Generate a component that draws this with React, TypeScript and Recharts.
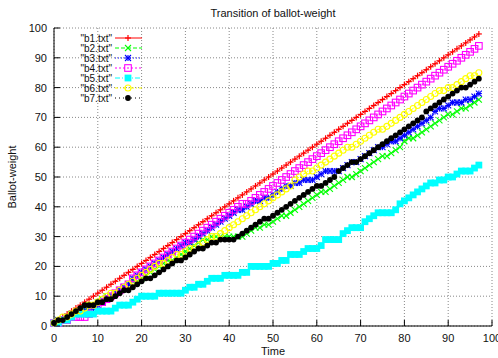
import React from 'react';
import { LineChart, Line, XAxis, YAxis, CartesianGrid } from 'recharts';

// time steps (x)
const time = [
  0, 1, 2, 3, 4, 5, 6, 7, 8, 9, 10, 11, 12, 13, 14, 15, 16, 17, 18, 19,
  20, 21, 22, 23, 24, 25, 26, 27, 28, 29, 30, 31, 32, 33, 34, 35, 36, 37, 38, 39,
  40, 41, 42, 43, 44, 45, 46, 47, 48, 49, 50, 51, 52, 53, 54, 55, 56, 57, 58, 59,
  60, 61, 62, 63, 64, 65, 66, 67, 68, 69, 70, 71, 72, 73, 74, 75, 76, 77, 78, 79,
  80, 81, 82, 83, 84, 85, 86, 87, 88, 89, 90, 91, 92, 93, 94, 95, 96, 97,
];

const b1 = [
  1, 2, 3, 4, 5, 6, 7, 8, 9, 10, 11, 12, 13, 14, 15, 16, 17, 18, 19, 20,
  21, 22, 23, 24, 25, 26, 27, 28, 29, 30, 31, 32, 33, 34, 35, 36, 37, 38, 39, 40,
  41, 42, 43, 44, 45, 46, 47, 48, 49, 50, 51, 52, 53, 54, 55, 56, 57, 58, 59, 60,
  61, 62, 63, 64, 65, 66, 67, 68, 69, 70, 71, 72, 73, 74, 75, 76, 77, 78, 79, 80,
  81, 82, 83, 84, 85, 86, 87, 88, 89, 90, 91, 92, 93, 94, 95, 96, 97, 98,
];

const b2 = [
  1, 2, 2, 3, 4, 4, 5, 6, 7, 7, 8, 9, 10, 10, 11, 12, 13, 14, 15, 15,
  16, 17, 18, 19, 20, 21, 22, 22, 23, 24, 25, 26, 27, 28, 29, 29, 30, 30, 30, 30,
  30, 30, 30, 30, 31, 32, 33, 33, 34, 34, 35, 36, 37, 37, 38, 39, 40, 41, 42, 43,
  44, 45, 45, 46, 47, 48, 49, 50, 50, 51, 52, 53, 54, 55, 56, 57, 57, 58, 59, 60,
  62, 63, 63, 64, 65, 66, 67, 68, 69, 70, 71, 71, 72, 73, 73, 74, 75, 76,
];

const b3 = [
  1, 2, 2, 3, 3, 4, 5, 5, 6, 6, 7, 8, 9, 10, 11, 12, 13, 14, 16, 17,
  18, 19, 20, 21, 22, 23, 24, 25, 26, 27, 28, 28, 29, 30, 31, 32, 33, 34, 35, 36,
  37, 38, 39, 39, 40, 41, 42, 42, 43, 43, 44, 45, 46, 47, 47, 48, 48, 49, 49, 49,
  50, 51, 52, 52, 52, 52, 53, 54, 55, 55, 56, 57, 58, 59, 60, 60, 61, 62, 62, 63,
  64, 65, 66, 67, 68, 69, 70, 72, 73, 73, 74, 75, 75, 75, 76, 76, 77, 78,
];

const b4 = [
  1, 1, 2, 2, 3, 3, 3, 3, 4, 5, 7, 8, 9, 10, 11, 12, 13, 14, 16, 17,
  18, 19, 20, 21, 22, 23, 24, 25, 26, 27, 28, 29, 30, 31, 32, 33, 34, 35, 36, 37,
  38, 39, 40, 41, 41, 42, 43, 44, 45, 46, 47, 48, 49, 50, 51, 52, 53, 54, 55, 56,
  57, 58, 59, 60, 61, 62, 63, 64, 65, 66, 67, 68, 69, 70, 71, 72, 73, 74, 75, 76,
  77, 78, 79, 80, 81, 82, 83, 84, 85, 86, 87, 88, 89, 90, 91, 92, 93, 94,
];

const b5 = [
  1, 1, 2, 2, 3, 4, 4, 4, 4, 4, 5, 5, 5, 5, 6, 7, 7, 7, 8, 9,
  10, 10, 10, 10, 11, 11, 11, 11, 11, 11, 12, 13, 13, 14, 14, 15, 16, 16, 16, 17,
  17, 17, 17, 18, 18, 20, 20, 20, 20, 20, 21, 21, 22, 22, 24, 24, 24, 25, 26, 26,
  26, 27, 29, 29, 29, 29, 31, 32, 33, 33, 33, 35, 36, 37, 38, 38, 38, 38, 39, 41,
  42, 43, 44, 45, 46, 47, 48, 48, 49, 49, 50, 50, 51, 52, 52, 52, 53, 54,
];

const b6 = [
  1, 2, 3, 3, 4, 5, 5, 6, 7, 7, 8, 9, 10, 11, 11, 12, 13, 14, 15, 16,
  17, 18, 19, 20, 21, 21, 22, 23, 24, 24, 25, 26, 26, 27, 28, 29, 30, 30, 31, 32,
  33, 34, 35, 36, 37, 38, 39, 40, 41, 42, 43, 44, 45, 46, 47, 49, 50, 51, 52, 52,
  53, 54, 55, 56, 57, 58, 59, 60, 60, 61, 62, 63, 64, 65, 66, 66, 67, 68, 69, 70,
  71, 72, 73, 74, 75, 76, 77, 78, 79, 79, 80, 80, 81, 82, 83, 84, 84, 85,
];

const b7 = [
  1, 2, 2, 3, 4, 5, 6, 7, 7, 7, 8, 8, 9, 9, 10, 11, 12, 12, 13, 14,
  15, 16, 16, 17, 18, 19, 20, 21, 22, 22, 23, 24, 25, 26, 26, 27, 28, 28, 29, 29,
  29, 29, 30, 31, 32, 33, 34, 35, 36, 36, 37, 38, 39, 40, 41, 42, 43, 44, 45, 46,
  47, 47, 48, 49, 50, 52, 53, 54, 55, 55, 56, 57, 58, 59, 60, 61, 62, 63, 64, 65,
  66, 67, 68, 69, 70, 72, 73, 74, 75, 76, 77, 78, 79, 80, 80, 81, 82, 83,
];

const xTicks = [0, 10, 20, 30, 40, 50, 60, 70, 80, 90, 100];
const yTicks = [0, 10, 20, 30, 40, 50, 60, 70, 80, 90, 100];

const series = [
  { key: 'b1', label: '"b1.txt"', color: '#ff0000', dash: undefined, mark: 'plus' },
  { key: 'b2', label: '"b2.txt"', color: '#00ff00', dash: '4 2', mark: 'cross' },
  { key: 'b3', label: '"b3.txt"', color: '#0000ff', dash: '1 2', mark: 'star' },
  { key: 'b4', label: '"b4.txt"', color: '#ff00ff', dash: '2 2', mark: 'box' },
  { key: 'b5', label: '"b5.txt"', color: '#00ffff', dash: '5 2 1 2', mark: 'fbox' },
  { key: 'b6', label: '"b6.txt"', color: '#ffff00', dash: '3 2 1 2', mark: 'circle' },
  { key: 'b7', label: '"b7.txt"', color: '#000000', dash: '1 3', mark: 'fcircle' },
];

const data = time.map((t, i) => ({
  t,
  b1: b1[i],
  b2: b2[i],
  b3: b3[i],
  b4: b4[i],
  b5: b5[i],
  b6: b6[i],
  b7: b7[i],
}));

const FONT = '"Liberation Sans", Arial, Helvetica, sans-serif';

function Marker({ kind, cx, cy, color }: { kind: string; cx: number; cy: number; color: string }) {
  const s = 3;
  if (kind === 'plus') {
    return (
      <g stroke={color} strokeWidth={1.2}>
        <line x1={cx - s} y1={cy} x2={cx + s} y2={cy} />
        <line x1={cx} y1={cy - s} x2={cx} y2={cy + s} />
      </g>
    );
  }
  if (kind === 'cross') {
    return (
      <g stroke={color} strokeWidth={1.1}>
        <line x1={cx - s} y1={cy - s} x2={cx + s} y2={cy + s} />
        <line x1={cx - s} y1={cy + s} x2={cx + s} y2={cy - s} />
      </g>
    );
  }
  if (kind === 'star') {
    return (
      <g stroke={color} strokeWidth={1.1}>
        <line x1={cx - s} y1={cy} x2={cx + s} y2={cy} />
        <line x1={cx} y1={cy - s} x2={cx} y2={cy + s} />
        <line x1={cx - s} y1={cy - s} x2={cx + s} y2={cy + s} />
        <line x1={cx - s} y1={cy + s} x2={cx + s} y2={cy - s} />
      </g>
    );
  }
  if (kind === 'box') {
    return <rect x={cx - 3.3} y={cy - 3.3} width={6.6} height={6.6} fill="none" stroke={color} strokeWidth={1.1} />;
  }
  if (kind === 'fbox') {
    return <rect x={cx - 3.4} y={cy - 3.4} width={6.8} height={6.8} fill={color} stroke="none" />;
  }
  if (kind === 'circle') {
    return <circle cx={cx} cy={cy} r={3} fill="none" stroke={color} strokeWidth={1.1} />;
  }
  return <circle cx={cx} cy={cy} r={2.9} fill={color} stroke="none" />;
}

const BottomTick = (props: any) => {
  const { x, y, payload } = props;
  return (
    <g>
      <line x1={x} y1={y} x2={x} y2={y - 6} stroke="#000" />
      <text x={x} y={y + 16} textAnchor="middle" fontSize={11} fontFamily={FONT} fill="#111">
        {payload.value}
      </text>
    </g>
  );
};

const LeftTick = (props: any) => {
  const { x, y, payload } = props;
  return (
    <g>
      <line x1={x} y1={y} x2={x + 6} y2={y} stroke="#000" />
      <text x={x - 7} y={y + 4} textAnchor="end" fontSize={11} fontFamily={FONT} fill="#111">
        {payload.value}
      </text>
    </g>
  );
};

const TopTick = (props: any) => {
  const { x, y } = props;
  return <line x1={x} y1={y} x2={x} y2={y + 6} stroke="#000" />;
};

const RightTick = (props: any) => {
  const { x, y } = props;
  return <line x1={x} y1={y} x2={x - 6} y2={y} stroke="#000" />;
};

function KeyBox() {
  return (
    <svg
      width={150}
      height={110}
      style={{ position: 'absolute', left: 0, top: 0, pointerEvents: 'none' }}
    >
      {series.map((s, i) => {
        const y = 38 + i * 10;
        return (
          <g key={s.key}>
            <text x={112} y={y + 3.5} textAnchor="end" fontSize={10} fontFamily={FONT} fill="#111">
              {s.label}
            </text>
            <line x1={115} y1={y} x2={142} y2={y} stroke={s.color} strokeDasharray={s.dash} />
            <Marker kind={s.mark} cx={128} cy={y} color={s.color} />
          </g>
        );
      })}
    </svg>
  );
}

export default function App() {
  return (
    <div style={{ position: 'absolute', left: 0, top: 0, width: 498, height: 358, background: '#fff' }}>
      <LineChart
        width={498}
        height={358}
        data={data}
        margin={{ top: 28, right: 6, bottom: 0, left: 0 }}
      >
        <CartesianGrid stroke="#888" strokeDasharray="1 2" />
        <XAxis
          dataKey="t"
          type="number"
          domain={[0, 100]}
          ticks={xTicks}
          height={32}
          tickSize={0}
          tickMargin={0}
          tickLine={false}
          tick={BottomTick}
          axisLine={{ stroke: '#000' }}
          interval={0}
        />
        <XAxis
          xAxisId="top"
          orientation="top"
          dataKey="t"
          type="number"
          domain={[0, 100]}
          ticks={xTicks}
          height={0}
          tickSize={0}
          tickMargin={0}
          tickLine={false}
          tick={TopTick}
          axisLine={{ stroke: '#000' }}
          interval={0}
        />
        <YAxis
          type="number"
          domain={[0, 100]}
          ticks={yTicks}
          width={54}
          tickSize={0}
          tickMargin={0}
          tickLine={false}
          tick={LeftTick}
          axisLine={{ stroke: '#000' }}
          interval={0}
        />
        <YAxis
          yAxisId="right"
          orientation="right"
          type="number"
          domain={[0, 100]}
          ticks={yTicks}
          width={0}
          tickSize={0}
          tickMargin={0}
          tickLine={false}
          tick={RightTick}
          axisLine={{ stroke: '#000' }}
          interval={0}
        />
        {series.map((s) => (
          <Line
            key={s.key}
            dataKey={s.key}
            type="linear"
            stroke={s.color}
            strokeWidth={1}
            strokeDasharray={s.dash}
            isAnimationActive={false}
            dot={(p: any) => (
              <Marker key={`${s.key}-${p.index}`} kind={s.mark} cx={p.cx} cy={p.cy} color={s.color} />
            )}
            activeDot={false}
          />
        ))}
      </LineChart>
      <KeyBox />
      <div
        style={{
          position: 'absolute',
          left: 54,
          width: 438,
          top: 7,
          textAlign: 'center',
          fontFamily: FONT,
          fontSize: 11,
          color: '#111',
        }}
      >
        Transition of ballot-weight
      </div>
      <div
        style={{
          position: 'absolute',
          left: 54,
          width: 438,
          top: 345,
          textAlign: 'center',
          fontFamily: FONT,
          fontSize: 11,
          color: '#111',
        }}
      >
        Time
      </div>
      <div
        style={{
          position: 'absolute',
          left: 12,
          top: 177,
          transform: 'translate(-50%, -50%) rotate(-90deg)',
          whiteSpace: 'nowrap',
          fontFamily: FONT,
          fontSize: 11,
          color: '#111',
        }}
      >
        Ballot-weight
      </div>
    </div>
  );
}
